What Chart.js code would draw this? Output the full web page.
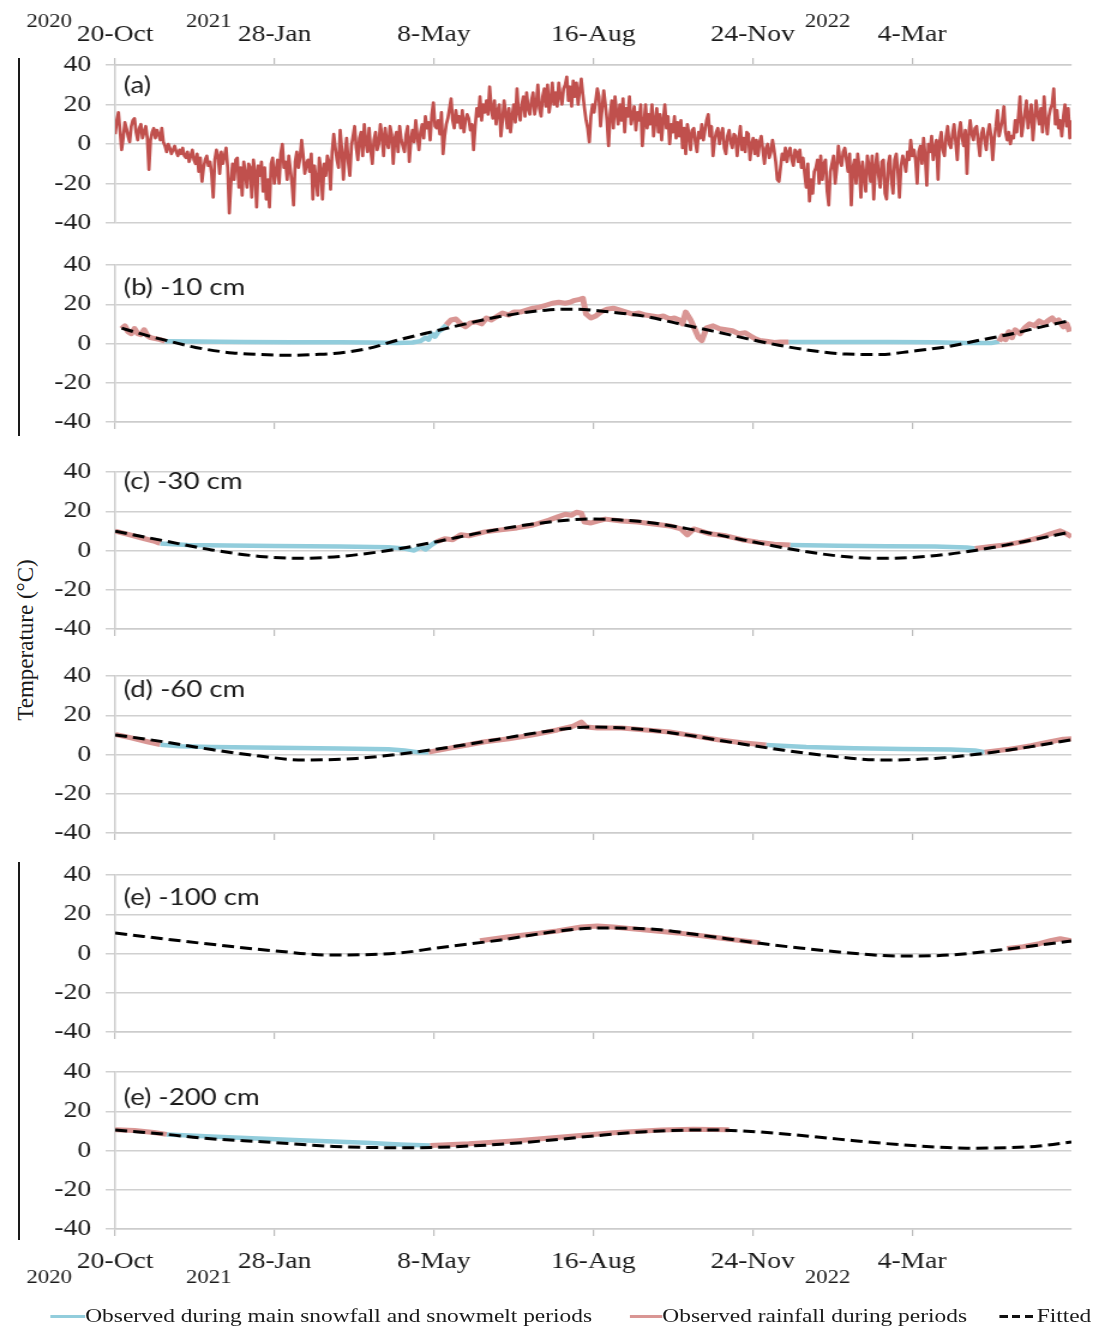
<!DOCTYPE html>
<html lang="en">
<head>
<meta charset="utf-8">
<title>Air and soil temperature, Oct 2020 - Jun 2022</title>
<script src="https://cdn.jsdelivr.net/npm/chart.js@4.4.1/dist/chart.umd.min.js"></script>
<style>
  html, body { margin: 0; padding: 0; background: #fff; }
  body { width: 1099px; height: 1331px; position: relative; overflow: hidden;
         font-family: 'Liberation Serif', 'Times New Roman', serif; color: #1a1a1a; }
  /* the whole figure is drawn narrow and widened by 1.2 */
  #fig { position: absolute; left: 0; top: 0; width: 916px; height: 1331px;
         transform: scaleX(1.1998); transform-origin: 0 0; }
  #fig canvas { position: absolute; left: 0; }
  .frame-line { position: absolute; left: 18px; width: 2px; background: #1a1a1a; }
  #ytitle { position: absolute; left: 26px; top: 640px; font-size: 23px; white-space: nowrap;
            transform: translate(-50%, -50%) rotate(-90deg); }
  #legend { position: absolute; left: 0; top: 1304px; width: 916px; height: 24px; }
  .key { position: absolute; top: 0; height: 24px; display: flex; align-items: center;
         font-size: 19.5px; white-space: nowrap; }
  .swatch { display: inline-block; height: 3px; }
  .swatch.snow { background: #92cddc; }
  .swatch.rain { background: #d99694; }
  .swatch.fit { background: repeating-linear-gradient(90deg, #111 0 7px, transparent 7px 10.5px); margin-right: 3px; }
</style>
</head>
<body>
<div class="frame-line" style="top:58px;height:378px"></div>
<div class="frame-line" style="top:862px;height:378px"></div>
<div id="ytitle">Temperature (°C)</div>

<div id="fig">
  <canvas id="panelA" width="916" height="253" style="top:0px"></canvas>
  <canvas id="panelB" width="916" height="217" style="top:235px"></canvas>
  <canvas id="panelC" width="916" height="217" style="top:442px"></canvas>
  <canvas id="panelD" width="916" height="217" style="top:646px"></canvas>
  <canvas id="panelE" width="916" height="217" style="top:845px"></canvas>
  <canvas id="panelF" width="916" height="247" style="top:1042px"></canvas>
  <div id="legend"></div>
</div>

<script>
// x axis is days since 20 Oct 2020, one tick every 100 days
const dateTicks = ['20-Oct', '28-Jan', '8-May', '16-Aug', '24-Nov', '4-Mar'];
const tickStep = 100;
const lastDay = 595;
const years = ['2020', '2021', '2022'];
const yearTickDay = [0, 100, 400];

const seriesNames = [
    'Observed during main snowfall and snowmelt periods',
    'Observed rainfall during periods',
    'Fitted',
];
const panelTitles = ['(a)', '(b) -10 cm', '(c) -30 cm', '(d) -60 cm', '(e) -100 cm', '(e) -200 cm'];

// (a) daily air temperature from day 0, twenty days per row
const airTemp = [
    5, 12, 16, 7, -3, 3, 11, 8, 4, 1, 9, 12, 13, 6, 2, 8, 10, 3, 6, 9,
    3, -13, 2, 6, 8, 3, 7, 5, 2, 8, 1, -1, -4, 0, -2, -5, -3, -1, -4, -6,
    -3, -5, -2, -6, -7, -4, -9, -6, -3, -8, -10, -5, -14, -7, -19, -12, -8, -6, -11, -9,
    -15, -27, -8, -3, -6, -15, -4, -10, -6, -2, -12, -35, -20, -10, -18, -8, -7, -22, -12, -26,
    -9, -15, -22, -10, -12, -27, -8, -14, -32, -11, -16, -9, -24, -12, -28, -18, -32, -10, -7, -20,
    -14, -8, -20, -5, 0, -12, -9, -18, -6, -13, -20, -31, -9, -4, -12, -7, 2, -6, -15, -10,
    -8, -14, -5, -28, -11, -18, -26, -7, -13, -28, -10, -16, -6, -9, -23, -4, 5, -2, -8, -12,
    7, -3, -18, -5, 3, -9, -16, -1, 4, 9, -2, -8, 3, 6, -6, 10, 1, -4, 8, -3,
    -10, 2, 6, -3, 0, 10, 4, -6, 8, 1, -2, 9, 5, -10, 3, 6, -4, 9, 2, -1,
    -4, 5, 9, -9, 2, 7, 1, 12, 4, -3, 6, 10, 3, 14, 8, 11, 2, 15, 21, 9,
    8, 12, 5, 16, -5, 4, 10, 13, 18, 23, 12, 8, 17, 11, 14, 8, 17, 6, 12, 15,
    13, 7, 10, -3, 9, 18, 14, 24, 12, 20, 16, 22, 15, 29, 18, 13, 22, 10, 17, 20,
    4, 12, 22, 15, 8, 18, 6, 14, 20, 11, 28, 16, 12, 20, 24, 14, 26, 18, 15, 22,
    26, 15, 20, 30, 18, 14, 24, 28, 19, 30, 16, 22, 31, 20, 26, 19, 31, 24, 20, 28,
    30, 34, 22, 29, 19, 32, 24, 31, 20, 27, 33, 25, 18, 12, 8, 1, 14, 20, 16, 22,
    28, 24, 9, 18, 27, 20, 12, -1, 15, 22, 8, 24, 16, 10, 20, 12, 23, 6, 18, 14,
    24, 10, 14, 19, 7, 16, 12, 20, -1, 10, 20, 8, 15, 10, 20, 4, 12, 18, 6, 15,
    2, 12, 20, 8, 14, 0, 10, 6, 14, 3, 11, 4, 12, -2, 8, -5, 10, 5, -3, 7,
    8, 1, -4, 6, 3, 10, 2, 7, 12, 15, 4, 9, -6, 2, 6, 8, 0, 5, 8, -2,
    -5, 4, 7, 1, -2, 5, 4, -6, 2, 9, -3, 3, -4, 6, 5, -8, 0, 3, -5, 2,
    -6, 1, 4, -3, -10, -2, 0, -7, -4, 2, -3, -9, -18, -19, -12, -5, -8, -2, -9, -4,
    -2, -8, -11, -3, -4, -9, -3, -12, -7, -15, -22, -10, -29, -18, -25, -14, -12, -8, -20, -6,
    -18, -10, -8, -24, -31, -14, -10, -6, -20, -12, -1, -9, -11, -4, -2, -8, -14, -5, -31, -12,
    -8, -20, -5, -12, -27, -9, -16, -24, -6, -11, -19, -6, -28, -12, -5, -16, -22, -9, -8, -25,
    -28, -10, -6, -18, -25, -8, -5, -14, -27, -11, -6, -9, -14, -4, -8, 2, -6, -3, -8, -20,
    -4, -1, -10, 3, -6, -21, 0, -4, 4, -8, -2, 2, -18, 1, 6, -3, -6, 4, 9, 0,
    -2, 5, 10, 1, -8, 6, 11, 3, -1, 7, -15, 4, 12, 5, 2, 8, 9, 1, -6, 5,
    8, 2, -3, 6, 10, 4, -8, 3, 9, 17, 4, 8, 12, 19, 6, 2, 6, 0, 4, 3,
    12, 6, 14, 24, 4, 10, 16, 22, 8, 14, 20, 2, 12, 22, 15, 10, 18, 6, 24, 12,
    5, 14, 18, 20, 28, 10, 17, 8, 12, 4, 14, 20, 9, 18, 3, 12,
];

// soil series as [day, °C]; a null value breaks the line between periods
const rain10 = [
    [4, 7.5], [6, 9], [8, 6], [10, 5], [12, 7.6], [14, 5], [16, 4.5], [18, 7], [20, 4], [22, 3], [25, 2.5], [28, 2], [31, 1.2],
    [118, null],
    [206, 9.5], [209, 12], [212, 12.5], [215, 10], [218, 8.5], [221, 10.5], [225, 11], [228, 10], [231, 13], [234, 12],
    [238, 14], [241, 15.5], [245, 14.5], [248, 16], [252, 16], [256, 17], [260, 18], [264, 18.5], [268, 19.5], [272, 20.5],
    [276, 21], [280, 20.5], [283, 21], [286, 22], [289, 22.5], [291, 23], [293, 15], [296, 13], [299, 14], [302, 16],
    [306, 17.5], [310, 18], [314, 17], [318, 16], [322, 15], [326, 15.5], [330, 14.5], [334, 14], [338, 13.5], [341, 14],
    [345, 12.5], [348, 13], [351, 12], [353, 10], [355, 16], [358, 12], [360, 8.5], [363, 3], [365, 1.5], [368, 8],
    [372, 9], [376, 7.5], [380, 7], [384, 6.5], [388, 5], [392, 5.5], [395, 4], [398, 2.5], [401, 1.5], [405, 1.2],
    [410, 0.5], [414, 0.8], [419, 0.8],
    [480, null],
    [550, 1], [552, 4], [554, 2], [556, 6], [558, 3], [560, 7], [563, 5], [566, 8], [569, 10], [572, 9], [575, 11.5],
    [578, 10], [581, 12], [583, 13], [585, 11], [587, 12], [590, 8.5], [592, 10], [594, 6],
];
const snow10 = [
    [31, 1.2], [50, 1], [80, 0.8], [110, 0.6], [140, 0.7], [160, 0.5], [175, 0.2], [185, 0.5], [190, 1.2], [193, 3],
    [195, 2], [197, 5], [199, 3.5], [201, 6], [203, 7], [206, 9.5],
    [300, null],
    [419, 0.8], [450, 0.8], [480, 0.8], [510, 0.6], [530, 0.3], [545, 0.2], [550, 1],
];
const fit10 = [
    [4, 7.8], [20, 4], [32, 1.5], [50, -2], [73, -4.8], [90, -5.6], [107, -6], [125, -5.6], [136, -5.1], [157, -2.6],
    [177, 2], [200, 6.5], [218, 10], [241, 14], [268, 17], [285, 17.5], [305, 16.3], [330, 13.8], [351, 10], [372, 6.3],
    [393, 2.5], [413, -0.9], [434, -3.7], [455, -5.4], [476, -5.6], [496, -3.9], [517, -1.7], [538, 1.7], [559, 5.1],
    [579, 9], [594, 11.6],
];

const rain30 = [
    [0, 9.8], [8, 8.2], [16, 6.5], [24, 4.8], [28, 3.6],
    [110, null],
    [200, 4.5], [205, 6], [210, 5.5], [215, 8], [220, 7.5], [230, 9.5], [240, 10.5], [250, 11.5], [260, 13], [270, 15.5],
    [275, 17], [280, 18.5], [284, 18], [287, 19.5], [290, 19], [292, 14.5], [296, 14], [300, 15], [305, 16], [315, 15],
    [325, 14.5], [335, 13.5], [345, 12.5], [352, 11], [356, 8], [360, 11], [370, 8.5], [380, 7.5], [390, 5.5], [400, 4.2],
    [410, 3.2], [420, 2.8],
    [480, null],
    [535, 1], [545, 2], [555, 3], [565, 4.5], [575, 6.5], [582, 8.5], [588, 10], [592, 8.5], [595, 7],
];
const snow30 = [
    [28, 3.6], [45, 2.8], [70, 2.6], [100, 2.3], [140, 2], [170, 1.6], [180, 1], [186, 0], [190, 2], [193, 0.5],
    [197, 3], [200, 4.5],
    [300, null],
    [420, 2.8], [450, 2.4], [480, 2.2], [510, 2], [530, 1.5], [535, 1],
];
const fit30 = [
    [0, 9.8], [30, 5], [60, 0.3], [90, -3], [115, -4], [140, -3], [170, 0], [200, 4.5], [230, 9.5], [260, 13.5],
    [295, 16], [330, 14.5], [360, 10.5], [390, 5.5], [420, 0.8], [450, -2.8], [476, -4], [505, -3], [535, 0],
    [565, 4.5], [595, 9.5],
];

const rain60 = [
    [0, 10.2], [10, 8.5], [20, 6.5], [28, 5],
    [110, null],
    [195, 1.2], [210, 3.5], [220, 5], [230, 6.5], [245, 8], [260, 10], [275, 12.5], [285, 14.5], [290, 16.5], [293, 14],
    [300, 13.5], [315, 13.5], [330, 12.5], [345, 11.5], [360, 9.5], [375, 7.5], [390, 6], [405, 4.8],
    [480, null],
    [541, 1.2], [555, 2.5], [570, 4.5], [582, 6.5], [590, 7.8], [595, 8],
];
const snow60 = [
    [28, 5], [40, 4.2], [60, 3.8], [100, 3.4], [140, 3], [170, 2.7], [180, 2], [188, 1.2], [195, 1.2],
    [300, null],
    [405, 4.8], [430, 3.8], [460, 3.2], [490, 2.8], [520, 2.5], [535, 2], [541, 1.2],
];
const fit60 = [
    [0, 10], [30, 6.5], [60, 2.5], [90, -0.8], [117, -2.8], [150, -2], [180, 0.5], [210, 4], [240, 8], [270, 12],
    [296, 14], [325, 13], [355, 10], [385, 6], [415, 2.3], [445, -0.8], [478, -2.8], [510, -2], [540, 0.5], [570, 4],
    [595, 7.5],
];

const rain100 = [
    [227, 6.5], [245, 8.5], [260, 10], [275, 11.5], [290, 13.5], [300, 14], [310, 13.5], [330, 12], [350, 10.5],
    [370, 8.5], [390, 6.5], [401, 5.5],
    [480, null],
    [555, 2.5], [565, 3.5], [575, 5], [582, 6.5], [588, 7.5], [595, 6.5],
];
const snow100 = [];
const fit100 = [
    [0, 10.4], [53, 5.3], [100, 1.3], [134, -0.8], [177, 0.3], [200, 2.8], [240, 6.9], [277, 11.5], [302, 13],
    [333, 12.5], [364, 9.4], [400, 5.3], [426, 2.8], [457, 0.3], [488, -1.3], [519, -0.8], [550, 1.8], [575, 4.3],
    [595, 6.4],
];

const rain200 = [
    [0, 10.6], [12, 10.2], [24, 9.2], [32, 8.2],
    [110, null],
    [196, 2.5], [220, 3.4], [250, 5], [280, 7], [310, 9], [340, 10.4], [360, 10.8], [382, 10.6],
];
const snow200 = [[32, 8.2], [74, 6.6], [115, 5.2], [156, 4], [177, 3.1], [196, 2.5]];
const fit200 = [
    [0, 10.4], [32, 8.2], [53, 6.4], [94, 4.3], [136, 2.1], [177, 1.4], [200, 1.6], [240, 3.2], [270, 5.2], [300, 7.6],
    [330, 9.6], [355, 10.4], [370, 10.5], [390, 10], [420, 8.2], [450, 5.8], [480, 3.5], [510, 1.8], [530, 1.2],
    [555, 1.4], [575, 2.3], [595, 4.3],
];

const SERIF = "'Liberation Serif', 'Times New Roman', serif";
const SANS = "Lato, 'Open Sans', sans-serif";
const INK = '#1a1a1a';
const SNOW = '#92cddc';
const RAIN = '#d99694';
const AIR = '#c0504d';

const toPts = (arr) => arr.map((p) => ({ x: p[0], y: p[1] }));

function soilSets(rain, snow, fit) {
    return [
        { label: seriesNames[2], data: toPts(fit), borderColor: '#000', borderWidth: 3,
          borderDash: [10, 5], borderCapStyle: 'butt', cubicInterpolationMode: 'monotone', order: 0 },
        { label: seriesNames[1], data: toPts(rain), borderColor: RAIN, borderWidth: 5, order: 1 },
        { label: seriesNames[0], data: toPts(snow), borderColor: SNOW, borderWidth: 4.5, order: 2 },
    ];
}

// panel caption in the top-left corner of each plot
const panelTitle = {
    id: 'panelTitle',
    afterDatasetsDraw(chart, args, opts) {
        const { ctx, chartArea } = chart;
        ctx.save();
        ctx.font = '23px ' + SANS;
        ctx.fillStyle = INK;
        ctx.textBaseline = 'middle';
        ctx.fillText(opts.text, chartArea.left + 7, chartArea.top + opts.dy);
        ctx.restore();
    },
};

// small year numbers next to the date labels
const yearShift = [-36, -37, 77];
const yearMarks = {
    id: 'yearMarks',
    afterDraw(chart, args, opts) {
        if (opts.y == null) return;
        const { ctx } = chart;
        const xs = chart.scales.x;
        ctx.save();
        ctx.font = '19px ' + SERIF;
        ctx.fillStyle = INK;
        ctx.textAlign = 'right';
        ctx.textBaseline = 'middle';
        years.forEach((yr, i) => {
            ctx.fillText(yr, xs.getPixelForValue(yearTickDay[i]) + yearShift[i], opts.y);
        });
        ctx.restore();
    },
};

// margins are kept at 30px or more so the y labels never push the plot area
const axisTop = { position: 'top', labels: true, height: 55, padTop: 10, padBottom: 30, labelPad: 9, yearY: 22 };
const axisMid = { position: 'bottom', labels: false, height: 20, padTop: 30, padBottom: 10, labelPad: 0, yearY: null };
const axisBottom = { position: 'bottom', labels: true, height: 60, padTop: 30, padBottom: 0, labelPad: 12, yearY: 236 };

function buildPanel(canvasId, title, titleDy, datasets, axis) {
    return new Chart(document.getElementById(canvasId), {
        type: 'line',
        data: { datasets },
        plugins: [panelTitle, yearMarks],
        options: {
            responsive: false,
            animation: false,
            events: [],
            layout: {
                padding: { left: 0, right: 23, top: axis.padTop, bottom: axis.padBottom },
            },
            elements: {
                point: { radius: 0 },
                line: { tension: 0, borderJoinStyle: 'round' },
            },
            plugins: {
                legend: { display: false },
                tooltip: { enabled: false },
                panelTitle: { text: title, dy: titleDy },
                yearMarks: { y: axis.yearY },
            },
            scales: {
                x: {
                    type: 'linear',
                    position: axis.position,
                    min: 0,
                    max: lastDay,
                    afterFit: (s) => { s.height = axis.height; },
                    ticks: {
                        display: axis.labels,
                        stepSize: tickStep,
                        includeBounds: false,
                        autoSkip: false,
                        maxRotation: 0,
                        padding: axis.labelPad,
                        color: INK,
                        font: { family: SERIF, size: 23 },
                        callback: (v) => dateTicks[Math.round(v / tickStep)],
                    },
                    grid: { drawOnChartArea: false, drawTicks: true, tickLength: 7, color: '#bdbdbd', lineWidth: 1.2 },
                    border: { display: true, color: '#cccccc', width: 1.5 },
                },
                y: {
                    min: -40,
                    max: 40,
                    afterFit: (s) => { s.width = 96; },
                    ticks: { stepSize: 20, padding: 12, color: INK, font: { family: SERIF, size: 23 } },
                    grid: { color: '#d0d0d0', lineWidth: 1.5, drawTicks: true, tickLength: 8 },
                    border: { display: true, color: '#cccccc', width: 1.5 },
                },
            },
        },
    });
}

buildPanel('panelA', panelTitles[0], 21, [{
    label: 'Air temperature',
    data: airTemp.map((t, day) => ({ x: day, y: t })),
    borderColor: AIR,
    borderWidth: 2.7,
}], axisTop);
buildPanel('panelB', panelTitles[1], 23, soilSets(rain10, snow10, fit10), axisMid);
buildPanel('panelC', panelTitles[2], 10, soilSets(rain30, snow30, fit30), axisMid);
buildPanel('panelD', panelTitles[3], 14, soilSets(rain60, snow60, fit60), axisMid);
buildPanel('panelE', panelTitles[4], 23, soilSets(rain100, snow100, fit100), axisMid);
buildPanel('panelF', panelTitles[5], 26, soilSets(rain200, snow200, fit200), axisBottom);

// shared legend under the last panel
const keyLeft = [42, 525, 833];
const keyWidth = [29, 27, 28];
const keyClass = ['snow', 'rain', 'fit'];
const legendBox = document.getElementById('legend');
seriesNames.forEach((name, i) => {
    const item = document.createElement('div');
    item.className = 'key';
    item.style.left = keyLeft[i] + 'px';
    const sw = document.createElement('i');
    sw.className = 'swatch ' + keyClass[i];
    sw.style.width = keyWidth[i] + 'px';
    const tx = document.createElement('span');
    tx.textContent = name;
    item.append(sw, tx);
    legendBox.append(item);
});
</script>
</body>
</html>
